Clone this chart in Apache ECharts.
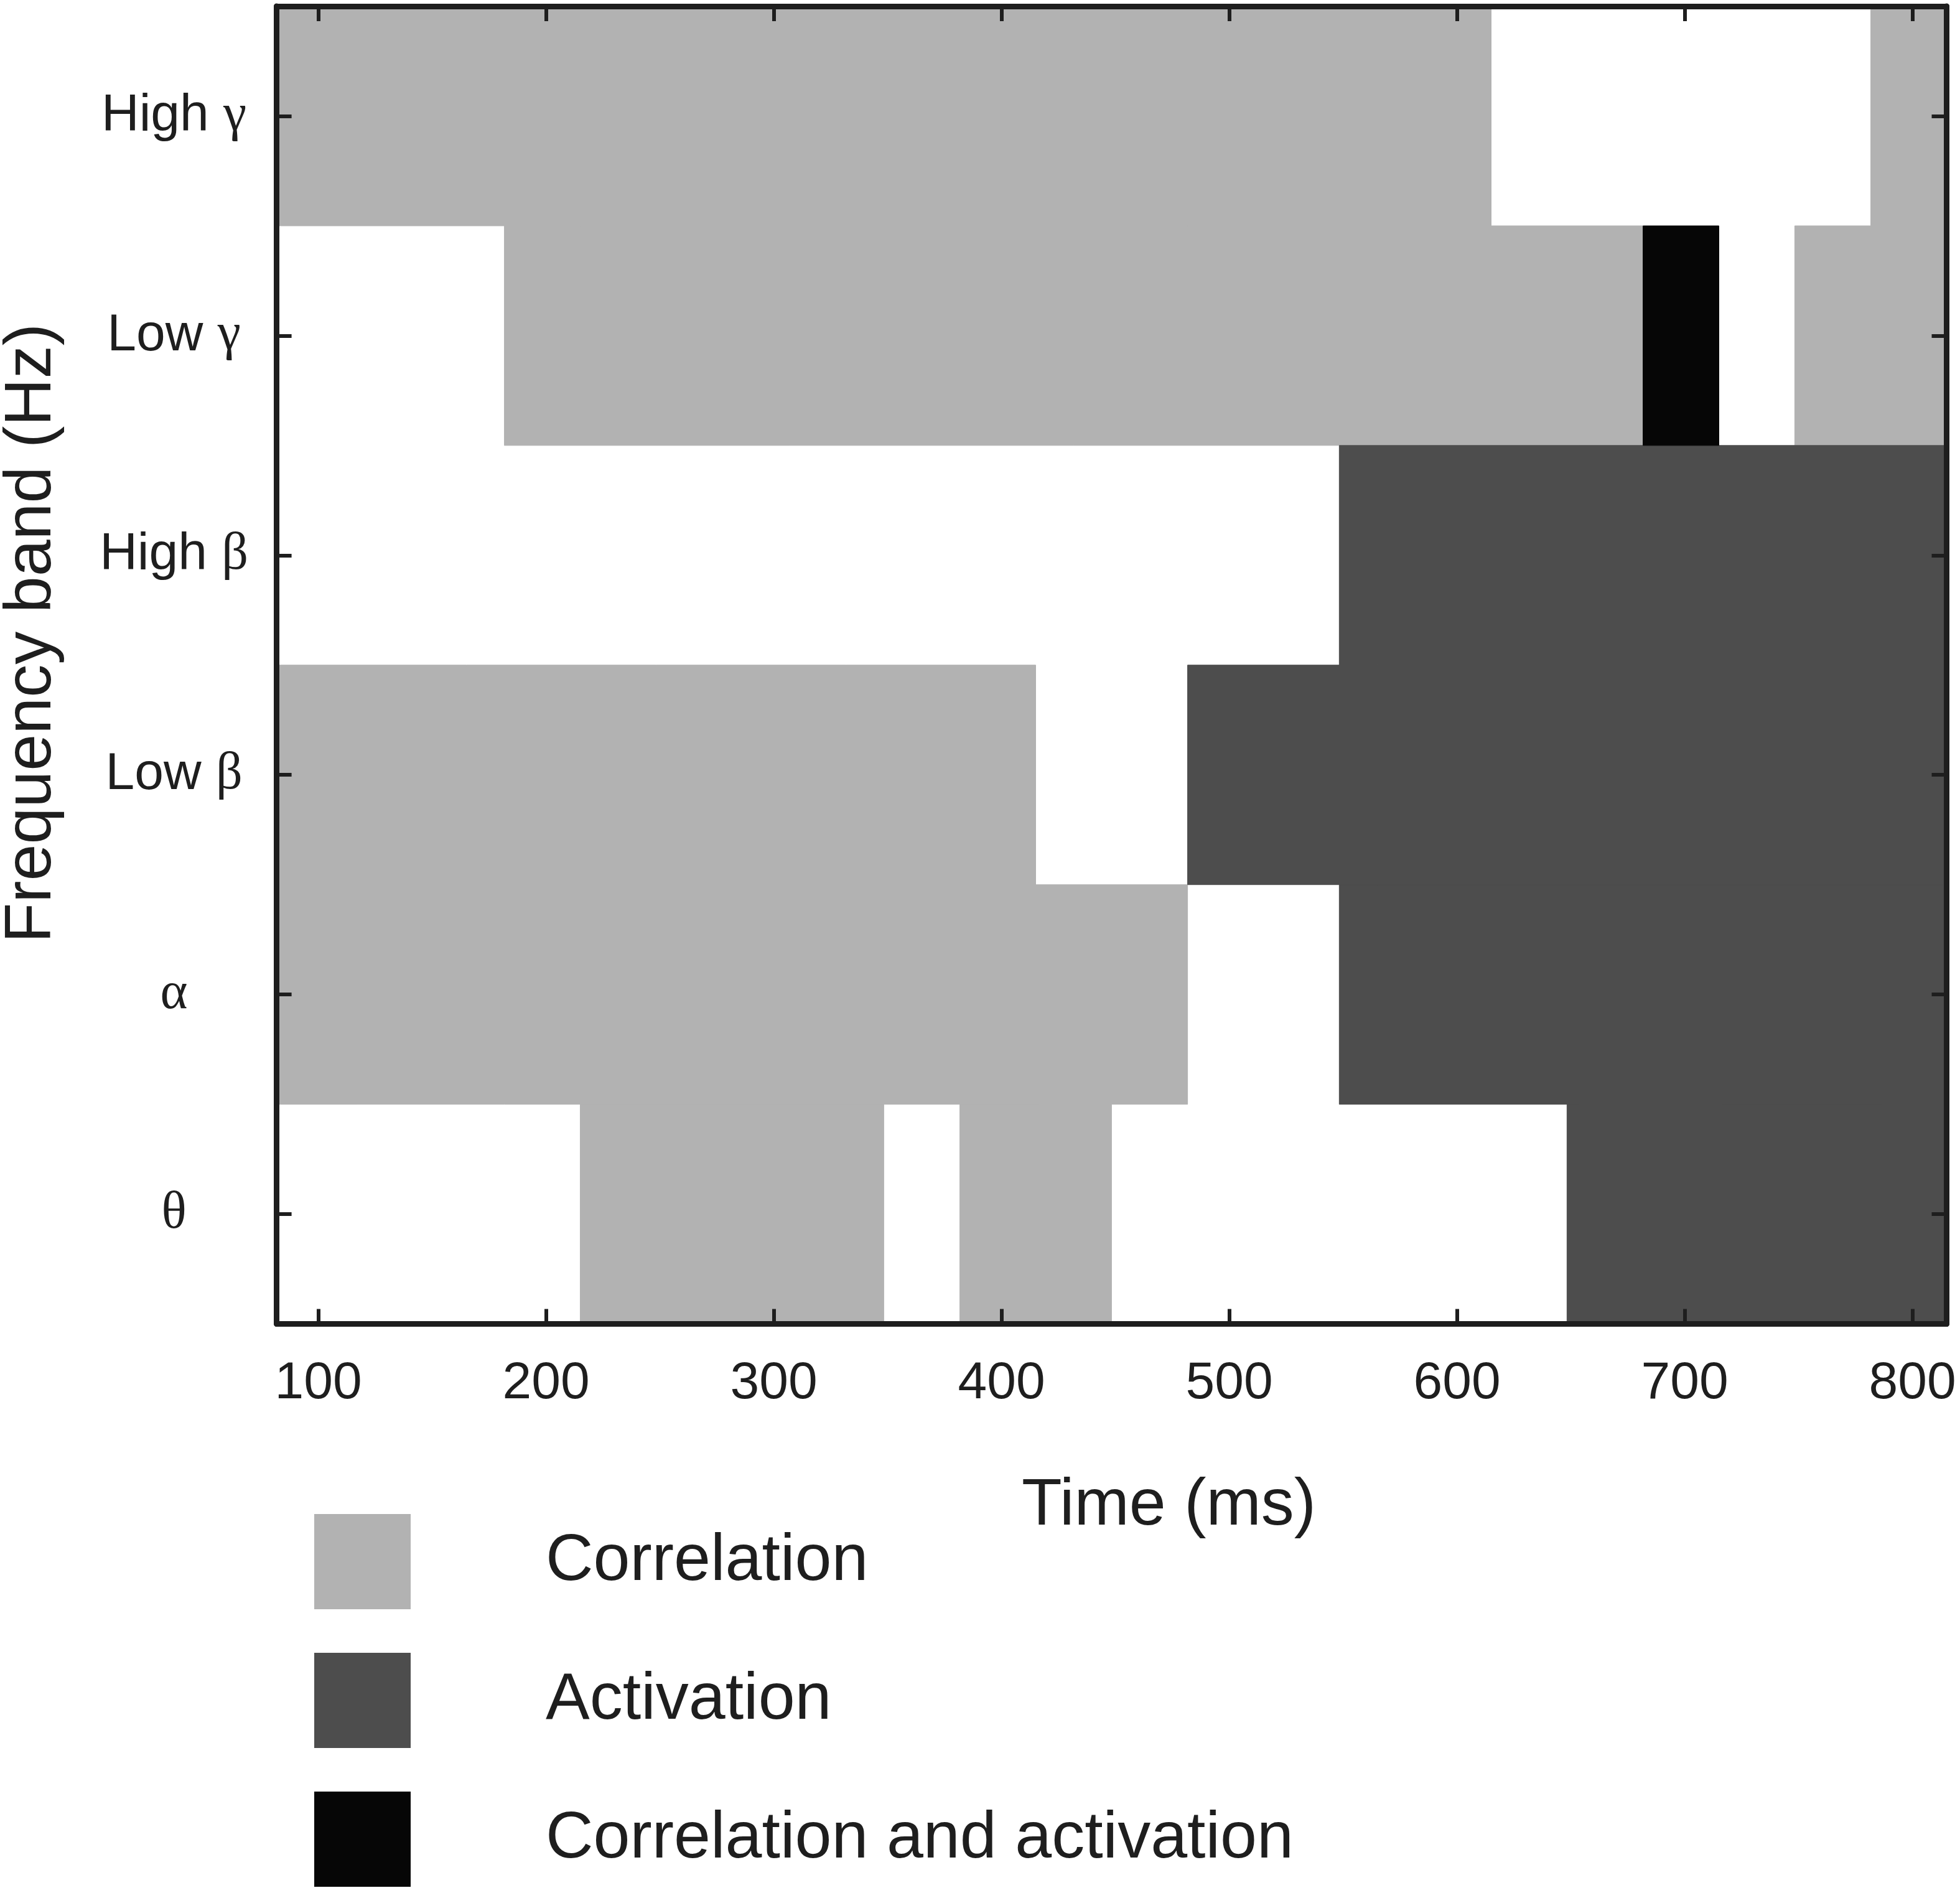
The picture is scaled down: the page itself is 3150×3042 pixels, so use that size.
<!DOCTYPE html>
<html>
<head>
<meta charset="utf-8">
<script src="https://cdn.jsdelivr.net/npm/echarts@6/dist/echarts.min.js"></script>
<style>
html,body{margin:0;padding:0;background:#fff;}
#chart{width:3150px;height:3042px;}
</style>
</head>
<body>
<div id="chart"></div>
<script>
// Time bin edges (ms), 22 bins
const timeEdges = [81.7, 115, 148.3, 181.7, 215, 248.3, 281.7, 315, 348.3, 381.7, 415, 448.3,
  481.7, 515, 548.3, 581.7, 615, 648.3, 681.7, 715, 748.3, 781.7, 815];
const timeTicks = [100, 200, 300, 400, 500, 600, 700, 800];
// Frequency bands, bottom to top
const bandLabels = ['θ', 'α', 'Low β', 'High β', 'Low γ', 'High γ'];
// Cell codes per bin: 0 = none, 1 = correlation, 2 = activation, 3 = correlation and activation
const thetaCodes     = [0,0,0,0,1,1,1,1,0,1,1,0,0,0,0,0,0,2,2,2,2,2];
const alphaCodes     = [1,1,1,1,1,1,1,1,1,1,1,1,0,0,2,2,2,2,2,2,2,2];
const lowBetaCodes   = [1,1,1,1,1,1,1,1,1,1,0,0,2,2,2,2,2,2,2,2,2,2];
const highBetaCodes  = [0,0,0,0,0,0,0,0,0,0,0,0,0,0,2,2,2,2,2,2,2,2];
const lowGammaCodes  = [0,0,0,1,1,1,1,1,1,1,1,1,1,1,1,1,1,1,3,0,1,1];
const highGammaCodes = [1,1,1,1,1,1,1,1,1,1,1,1,1,1,1,1,0,0,0,0,0,1];
const categoryNames = ['Correlation', 'Activation', 'Correlation and activation'];
const categoryColors = ['#b2b2b2', '#4d4d4d', '#060606'];

const bandCodes = [thetaCodes, alphaCodes, lowBetaCodes, highBetaCodes, lowGammaCodes, highGammaCodes];

// Build runs [start, end, bandIndex] per category code
function runsFor(code) {
  const out = [];
  bandCodes.forEach(function (codes, b) {
    let i = 0;
    while (i < codes.length) {
      if (codes[i] === code) {
        let j = i;
        while (j + 1 < codes.length && codes[j + 1] === code) j++;
        out.push([timeEdges[i], timeEdges[j + 1], b]);
        i = j + 1;
      } else i++;
    }
  });
  return out;
}

function renderItem(params, api) {
  const b = api.value(2);
  const p0 = api.coord([api.value(0), b]);
  const p1 = api.coord([api.value(1), b]);
  const h = api.size([0, 1])[1];
  const color = api.visual('color');
  return {
    type: 'rect',
    shape: { x: p0[0], y: p0[1] - h / 2, width: p1[0] - p0[0], height: h },
    style: { fill: color, stroke: color, lineWidth: 1 }
  };
}

const AX = '#1e1e1e';
const sans = 'Liberation Sans, Arial, sans-serif';
const serif = 'Liberation Serif, Times New Roman, serif';

function bandFormatter(v) {
  const parts = v.split(' ');
  if (parts.length === 2) return '{t|' + parts[0] + ' }{g|' + parts[1] + '}';
  return '{g|' + v + '}';
}

const xBase = {
  type: 'value', min: 81.7, max: 815, z: 10,
  splitLine: { show: false },
  axisLine: { show: true, lineStyle: { color: AX, width: 9 } },
  axisTick: { show: true, inside: true, length: 24, lineStyle: { color: AX, width: 6 }, customValues: timeTicks }
};
const yBase = {
  type: 'category', data: bandLabels, boundaryGap: true, z: 10,
  splitLine: { show: false },
  axisLine: { show: true, lineStyle: { color: AX, width: 9 } },
  axisTick: { show: true, inside: true, alignWithLabel: true, length: 24, lineStyle: { color: AX, width: 6 } }
};

const chart = echarts.init(document.getElementById('chart'), null, { renderer: 'canvas' });
chart.setOption({
  backgroundColor: '#ffffff',
  animation: false,
  grid: { left: 444.6, right: 21.5, top: 10, bottom: 914.5, containLabel: false, outerBoundsMode: 'none' },
  xAxis: [
    Object.assign({}, xBase, {
      position: 'bottom',
      name: 'Time (ms)', nameLocation: 'middle', nameGap: 240,
      nameTextStyle: { fontFamily: sans, fontSize: 106, color: AX, padding: [0, 0, 0, 184] },
      axisLabel: { show: true, customValues: timeTicks, margin: 54, fontFamily: sans, fontSize: 84, color: AX }
    }),
    Object.assign({}, xBase, { position: 'top', axisLabel: { show: false } })
  ],
  yAxis: [
    Object.assign({}, yBase, {
      position: 'left',
      name: 'Frequency band (Hz)', nameLocation: 'middle', nameGap: 340, nameRotate: 90,
      nameTextStyle: { fontFamily: sans, fontSize: 106, color: AX, padding: [0, 0, 0, 102] },
      axisLabel: {
        show: true, margin: 165, align: 'center', formatter: bandFormatter,
        rich: {
          t: { fontFamily: sans, fontSize: 84, color: AX },
          g: { fontFamily: serif, fontSize: 84, color: AX }
        }
      }
    }),
    Object.assign({}, yBase, { position: 'right', axisLabel: { show: false } })
  ],
  legend: {
    orient: 'vertical', left: 500, top: 2428,
    itemWidth: 155, itemHeight: 153, itemGap: 70,
    icon: 'rect',
    data: categoryNames,
    textStyle: { fontFamily: sans, fontSize: 106, color: AX, padding: [0, 0, 0, 212] }
  },
  series: categoryNames.map(function (name, k) {
    return {
      type: 'custom', name: name,
      xAxisIndex: 0, yAxisIndex: 0,
      renderItem: renderItem,
      itemStyle: { color: categoryColors[k] },
      encode: { x: [0, 1], y: 2 },
      clip: true,
      data: runsFor(k + 1)
    };
  })
});
</script>
</body>
</html>
